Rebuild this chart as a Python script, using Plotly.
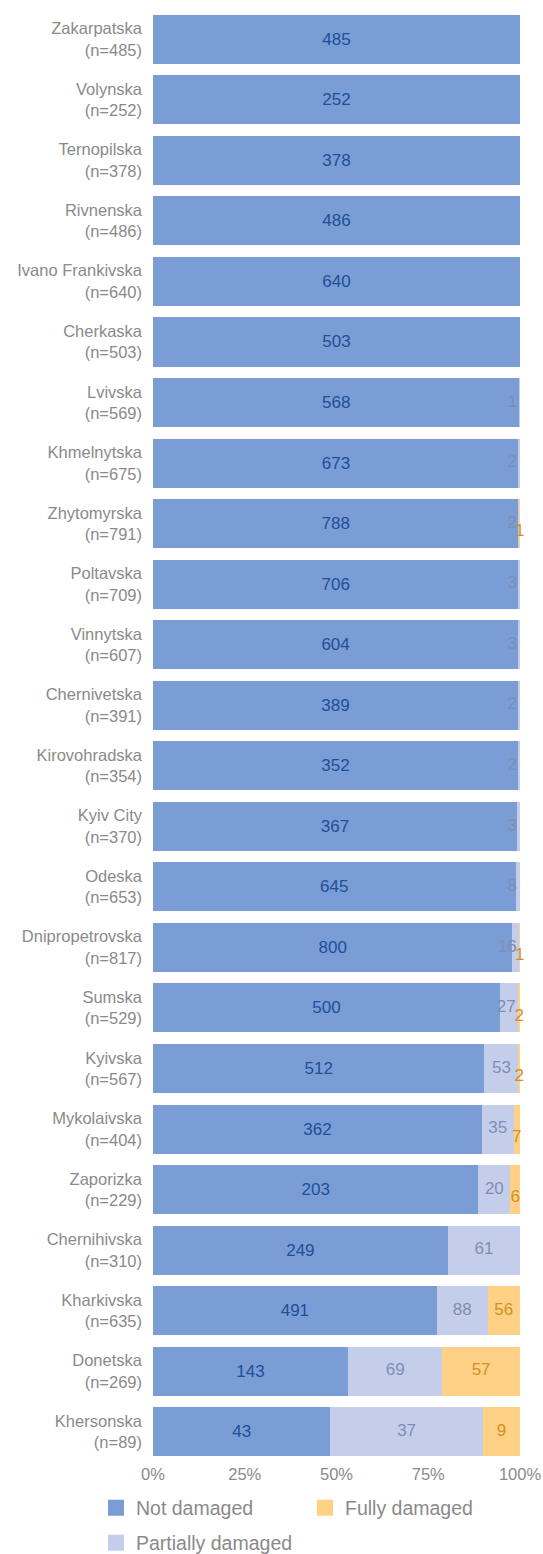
import plotly.graph_objects as go

regions = ["Zakarpatska", "Volynska", "Ternopilska", "Rivnenska", "Ivano Frankivska",
           "Cherkaska", "Lvivska", "Khmelnytska", "Zhytomyrska", "Poltavska", "Vinnytska",
           "Chernivetska", "Kirovohradska", "Kyiv City", "Odeska", "Dnipropetrovska",
           "Sumska", "Kyivska", "Mykolaivska", "Zaporizka", "Chernihivska", "Kharkivska",
           "Donetska", "Khersonska"]
totals = [485, 252, 378, 486, 640, 503, 569, 675, 791, 709, 607, 391, 354, 370, 653,
          817, 529, 567, 404, 229, 310, 635, 269, 89]
not_damaged = [485, 252, 378, 486, 640, 503, 568, 673, 788, 706, 604, 389, 352, 367, 645,
               800, 500, 512, 362, 203, 249, 491, 143, 43]
partially = [0, 0, 0, 0, 0, 0, 1, 2, 2, 3, 3, 2, 2, 3, 8, 16, 27, 53, 35, 20, 61, 88, 69, 37]
fully = [0, 0, 0, 0, 0, 0, 0, 0, 1, 0, 0, 0, 0, 0, 0, 1, 2, 2, 7, 6, 0, 56, 57, 9]
x_ticks = [0, 25, 50, 75, 100]
x_ticktext = ["0%", "25%", "50%", "75%", "100%"]

C_ND, C_PD, C_FD = "#7A9DD5", "#C4CDE9", "#FFD187"
T_ND, T_PD, T_FD = "#1F4F98", "#7F8DB6", "#D4901E"
GRAY = "#8A8A8A"
FONT = "Liberation Sans, Arial, sans-serif"

labels = [f"{r}<br>(n={n})" for r, n in zip(regions, totals)]


def pct(vals):
    return [100.0 * v / n for v, n in zip(vals, totals)]


p_nd, p_pd, p_fd = pct(not_damaged), pct(partially), pct(fully)

fig = go.Figure()
fig.add_trace(go.Bar(
    y=labels, x=p_nd, orientation="h", marker=dict(color=C_ND, line=dict(width=0)),
    text=[str(v) if v else "" for v in not_damaged], textposition="inside",
    insidetextanchor="middle", constraintext="none",
    textfont=dict(color=T_ND, size=17, family=FONT), showlegend=False, hoverinfo="skip"))
fig.add_trace(go.Bar(
    y=labels, x=p_pd, orientation="h", marker=dict(color=C_PD, line=dict(width=0)),
    showlegend=False, hoverinfo="skip"))
fig.add_trace(go.Bar(
    y=labels, x=p_fd, orientation="h", marker=dict(color=C_FD, line=dict(width=0)),
    showlegend=False, hoverinfo="skip"))

# segment labels for partially / fully damaged
pd_x, pd_y, pd_t, pd_pos = [], [], [], []
fd_x, fd_y, fd_t, fd_pos = [], [], [], []
for i in range(len(regions)):
    s = p_nd[i]
    e = s + p_pd[i]
    if partially[i]:
        if p_pd[i] < 6:
            pd_x.append(e - 0.8); pd_pos.append("middle left")
        else:
            pd_x.append((s + e) / 2); pd_pos.append("middle center")
        pd_y.append(labels[i]); pd_t.append(str(partially[i]))
    if fully[i]:
        fe = e + p_fd[i]
        fd_x.append((e + fe) / 2)
        fd_pos.append("bottom center" if p_fd[i] < 3 else "middle center")
        fd_y.append(labels[i]); fd_t.append(str(fully[i]))

fig.add_trace(go.Scatter(x=pd_x, y=pd_y, text=pd_t, mode="text", textposition=pd_pos,
                         textfont=dict(color=T_PD, size=17, family=FONT), cliponaxis=False,
                         showlegend=False, hoverinfo="skip"))
fig.add_trace(go.Scatter(x=fd_x, y=fd_y, text=fd_t, mode="text", textposition=fd_pos,
                         textfont=dict(color=T_FD, size=17, family=FONT), cliponaxis=False,
                         showlegend=False, hoverinfo="skip"))

# legend entries
for name, col, lg in [("Not damaged", C_ND, "legend"), ("Partially damaged", C_PD, "legend2"),
                      ("Fully damaged", C_FD, "legend3")]:
    fig.add_trace(go.Scatter(x=[None], y=[None], mode="markers", name=name,
                             marker=dict(symbol="square", size=16, color=col),
                             legend=lg, showlegend=True))

W, H = 543, 1554
leg_common = dict(orientation="h", xanchor="left", yanchor="middle", bgcolor="rgba(0,0,0,0)",
                  xref="container", yref="container",
                  font=dict(size=19.5, color=GRAY, family=FONT), itemsizing="trace")

n = len(labels)
fig.update_layout(
    width=W, height=H,
    margin=dict(l=153, r=23, t=9, b=92),
    barmode="stack", bargap=0.19,
    paper_bgcolor="white", plot_bgcolor="white",
    font=dict(family=FONT, color=GRAY, size=17),
    xaxis=dict(range=[0, 100], tickvals=x_ticks, ticktext=x_ticktext, showgrid=False,
               zeroline=False, showline=False, ticks="", tickfont=dict(size=16.5, color=GRAY),
               fixedrange=True, automargin=False),
    yaxis=dict(categoryorder="array", categoryarray=labels, range=[n - 0.5, -0.5],
               showgrid=False, zeroline=False, showline=False, ticks="",
               ticklabelstandoff=10, tickfont=dict(size=16.5, color=GRAY), fixedrange=True,
               automargin=False),
    legend=dict(x=96 / W, y=1 - 1508 / H, **leg_common),
    legend2=dict(x=96 / W, y=1 - 1543 / H, **leg_common),
    legend3=dict(x=305 / W, y=1 - 1508 / H, **leg_common),
)

fig.write_html("out.html", config={"displayModeBar": False},
               post_script="document.body.style.margin='0';"
                           "document.body.style.overflow='hidden';")
